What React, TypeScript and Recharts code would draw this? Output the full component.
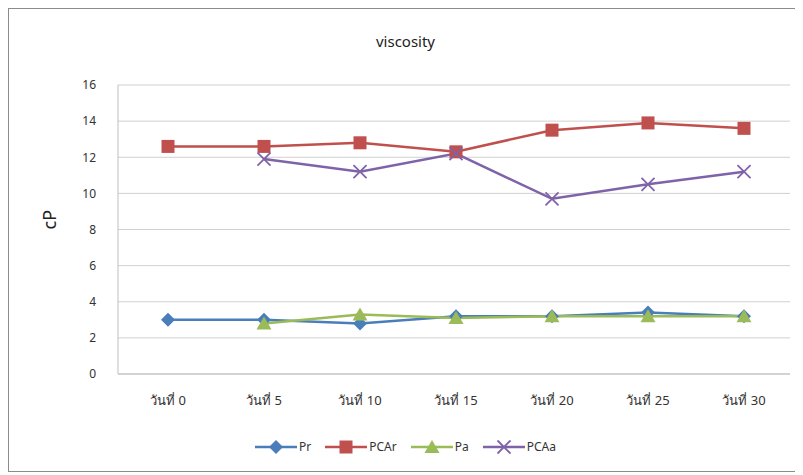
import React from 'react';
import { LineChart, Line, XAxis, YAxis, CartesianGrid, Legend } from 'recharts';

const days = ['วันที่ 0', 'วันที่ 5', 'วันที่ 10', 'วันที่ 15', 'วันที่ 20', 'วันที่ 25', 'วันที่ 30'];
const pr = [3.0, 3.0, 2.8, 3.2, 3.2, 3.4, 3.2];
const pcar = [12.6, 12.6, 12.8, 12.3, 13.5, 13.9, 13.6];
const pa = [null, 2.8, 3.3, 3.1, 3.2, 3.2, 3.2];
const pcaa = [null, 11.9, 11.2, 12.2, 9.7, 10.5, 11.2];
const yTicks = [0, 2, 4, 6, 8, 10, 12, 14, 16];

const data = days.map((d, i) => ({ day: d, Pr: pr[i], PCAr: pcar[i], Pa: pa[i], PCAa: pcaa[i] }));

const series = [
  { key: 'Pr', color: '#4a7ebb', shape: 'diamond' },
  { key: 'PCAr', color: '#c0504d', shape: 'square' },
  { key: 'Pa', color: '#9bbb59', shape: 'triangle' },
  { key: 'PCAa', color: '#7f63a8', shape: 'x' },
];

const Marker = ({ cx, cy, shape, color }: any) => {
  if (cx == null || cy == null) return null;
  if (shape === 'diamond') {
    const r = 7;
    return <polygon points={`${cx},${cy - r} ${cx + r},${cy} ${cx},${cy + r} ${cx - r},${cy}`} fill={color} />;
  }
  if (shape === 'square') {
    return <rect x={cx - 6.5} y={cy - 6.5} width={13} height={13} fill={color} />;
  }
  if (shape === 'triangle') {
    return <polygon points={`${cx},${cy - 7} ${cx + 7.5},${cy + 6} ${cx - 7.5},${cy + 6}`} fill={color} />;
  }
  const r = 6.5;
  return (
    <g stroke={color} strokeWidth={1.8}>
      <line x1={cx - r} y1={cy - r} x2={cx + r} y2={cy + r} />
      <line x1={cx - r} y1={cy + r} x2={cx + r} y2={cy - r} />
    </g>
  );
};

const LegendContent = () => (
  <div style={{ display: 'flex', justifyContent: 'center', gap: 14, fontFamily: 'Noto Sans, DejaVu Sans, sans-serif', fontSize: 12, color: '#333' }}>
    {series.map((s) => (
      <div key={s.key} style={{ display: 'flex', alignItems: 'center' }}>
        <svg width={42} height={16}>
          <line x1={0} y1={8} x2={42} y2={8} stroke={s.color} strokeWidth={2.5} />
          <Marker cx={21} cy={8} shape={s.shape} color={s.color} />
        </svg>
        <span style={{ marginLeft: 2 }}>{s.key}</span>
      </div>
    ))}
  </div>
);

const App: React.FC = () => {
  return (
    <div style={{ position: 'relative', width: 793, height: 462, border: '1px solid #8c8c8c', background: '#fff', fontFamily: 'Noto Sans, DejaVu Sans, sans-serif' }}>
      <div style={{ position: 'absolute', top: 22, left: 0, width: 793, textAlign: 'center', fontSize: 15, color: '#222' }}>viscosity</div>
      <LineChart width={793} height={462} data={data} margin={{ top: 76, right: 12, bottom: 40, left: 0 }}>
        <CartesianGrid vertical={false} stroke="#d0d0d0" />
        <XAxis
          dataKey="day"
          padding={{ left: 50, right: 46 }}
          tickLine={false}
          axisLine={{ stroke: '#bfbfbf' }}
          tick={{ fontSize: 13, fill: '#333' }}
          tickMargin={16}
          height={40}
        />
        <YAxis
          width={109}
          domain={[0, 16]}
          ticks={yTicks}
          interval={0}
          tickLine={false}
          axisLine={{ stroke: '#bfbfbf' }}
          tick={{ fontSize: 12, fill: '#333' }}
          tickMargin={16}
          label={{ value: 'cP', angle: -90, position: 'insideLeft', offset: 41, style: { fontSize: 18, fill: '#222' } }}
        />
        <Legend content={<LegendContent />} wrapperStyle={{ top: 429, left: 0, width: 793 }} />
        {series.map((s) => (
          <Line
            key={s.key}
            dataKey={s.key}
            stroke={s.color}
            strokeWidth={2.5}
            isAnimationActive={false}
            dot={(p: any) => <Marker key={`${s.key}-${p.index}`} cx={p.cx} cy={p.cy} shape={s.shape} color={s.color} />}
            activeDot={false}
          />
        ))}
      </LineChart>
    </div>
  );
};

export default App;
